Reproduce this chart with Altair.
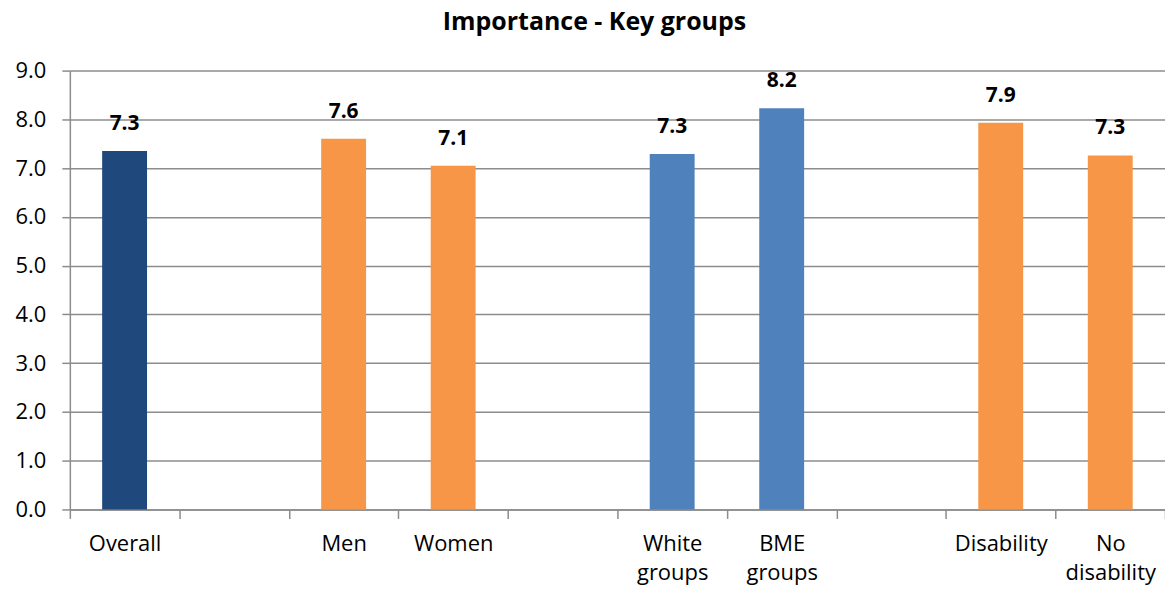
import json
import altair as alt
import pandas as pd

categories = ["Overall", " ", "Men", "Women", "  ", "White groups", "BME groups", "   ", "Disability", "No disability"]
values = [7.35, None, 7.60, 7.05, None, 7.29, 8.23, None, 7.93, 7.26]
labels = ["7.3", "", "7.6", "7.1", "", "7.3", "8.2", "", "7.9", "7.3"]
groups = ["overall", "", "gender", "gender", "", "ethnicity", "ethnicity", "", "disability", "disability"]

group_domain = ["overall", "gender", "ethnicity", "disability"]
group_colors = ["#1F497D", "#F79646", "#4F81BD", "#F79646"]

rows = [
    {"cat": c, "value": v, "label": l, "group": g}
    for c, v, l, g in zip(categories, values, labels, groups)
    if v is not None
]
df = pd.DataFrame(rows)

# two-line axis labels (array literal -> multi-line text)
label_expr = "".join(
    f"datum.value == '{c}' ? {json.dumps(c.split(' '))} : "
    for c in categories
    if " " in c.strip()
) + "datum.label"

FONT = "Open Sans"
GRID = "#8c8c8c"

x = alt.X(
    "cat:N",
    sort=categories,
    scale=alt.Scale(domain=categories, paddingInner=0, paddingOuter=0),
    axis=alt.Axis(
        title=None,
        labelAngle=0,
        tickBand="extent",
        labelExpr=label_expr,
        labelFont=FONT,
        labelFontSize=22,
        labelColor="#000000",
        labelLineHeight=29,
        labelPadding=15,
        tickSize=9,
        tickColor=GRID,
        tickWidth=1.5,
        domainColor=GRID,
        domainWidth=1.5,
        grid=False,
    ),
)

y = alt.Y(
    "value:Q",
    scale=alt.Scale(domain=[0, 9], nice=False),
    axis=alt.Axis(
        title=None,
        values=[0, 1, 2, 3, 4, 5, 6, 7, 8, 9],
        format=".1f",
        labelFont=FONT,
        labelFontSize=22,
        labelColor="#000000",
        labelPadding=16,
        tickSize=8,
        tickColor=GRID,
        tickWidth=1.5,
        domainColor=GRID,
        domainWidth=1.5,
        grid=True,
        gridColor=GRID,
        gridWidth=1.5,
    ),
)

bars = alt.Chart(df).mark_bar(width=45).encode(
    x=x,
    y=y,
    color=alt.Color("group:N", scale=alt.Scale(domain=group_domain, range=group_colors), legend=None),
)

text = alt.Chart(df).mark_text(
    font=FONT, fontSize=21, fontWeight="bold", color="#000000", baseline="bottom", dy=-17
).encode(
    x=alt.X("cat:N", sort=categories),
    y=alt.Y("value:Q"),
    text="label:N",
)

chart = alt.layer(bars, text).properties(
    width=1098,
    height=440,
    padding={"left": 62, "top": 62, "right": 0, "bottom": 76},
    autosize=alt.AutoSizeParams(type="none"),
    title=alt.TitleParams(
        "Importance - Key groups",
        font=FONT,
        fontSize=25,
        fontWeight="bold",
        color="#000000",
        anchor="middle",
        dx=-23,
        offset=25,
    ),
).configure_view(stroke=None)

chart.save("out.html", embed_options={"renderer": "svg", "actions": False})
